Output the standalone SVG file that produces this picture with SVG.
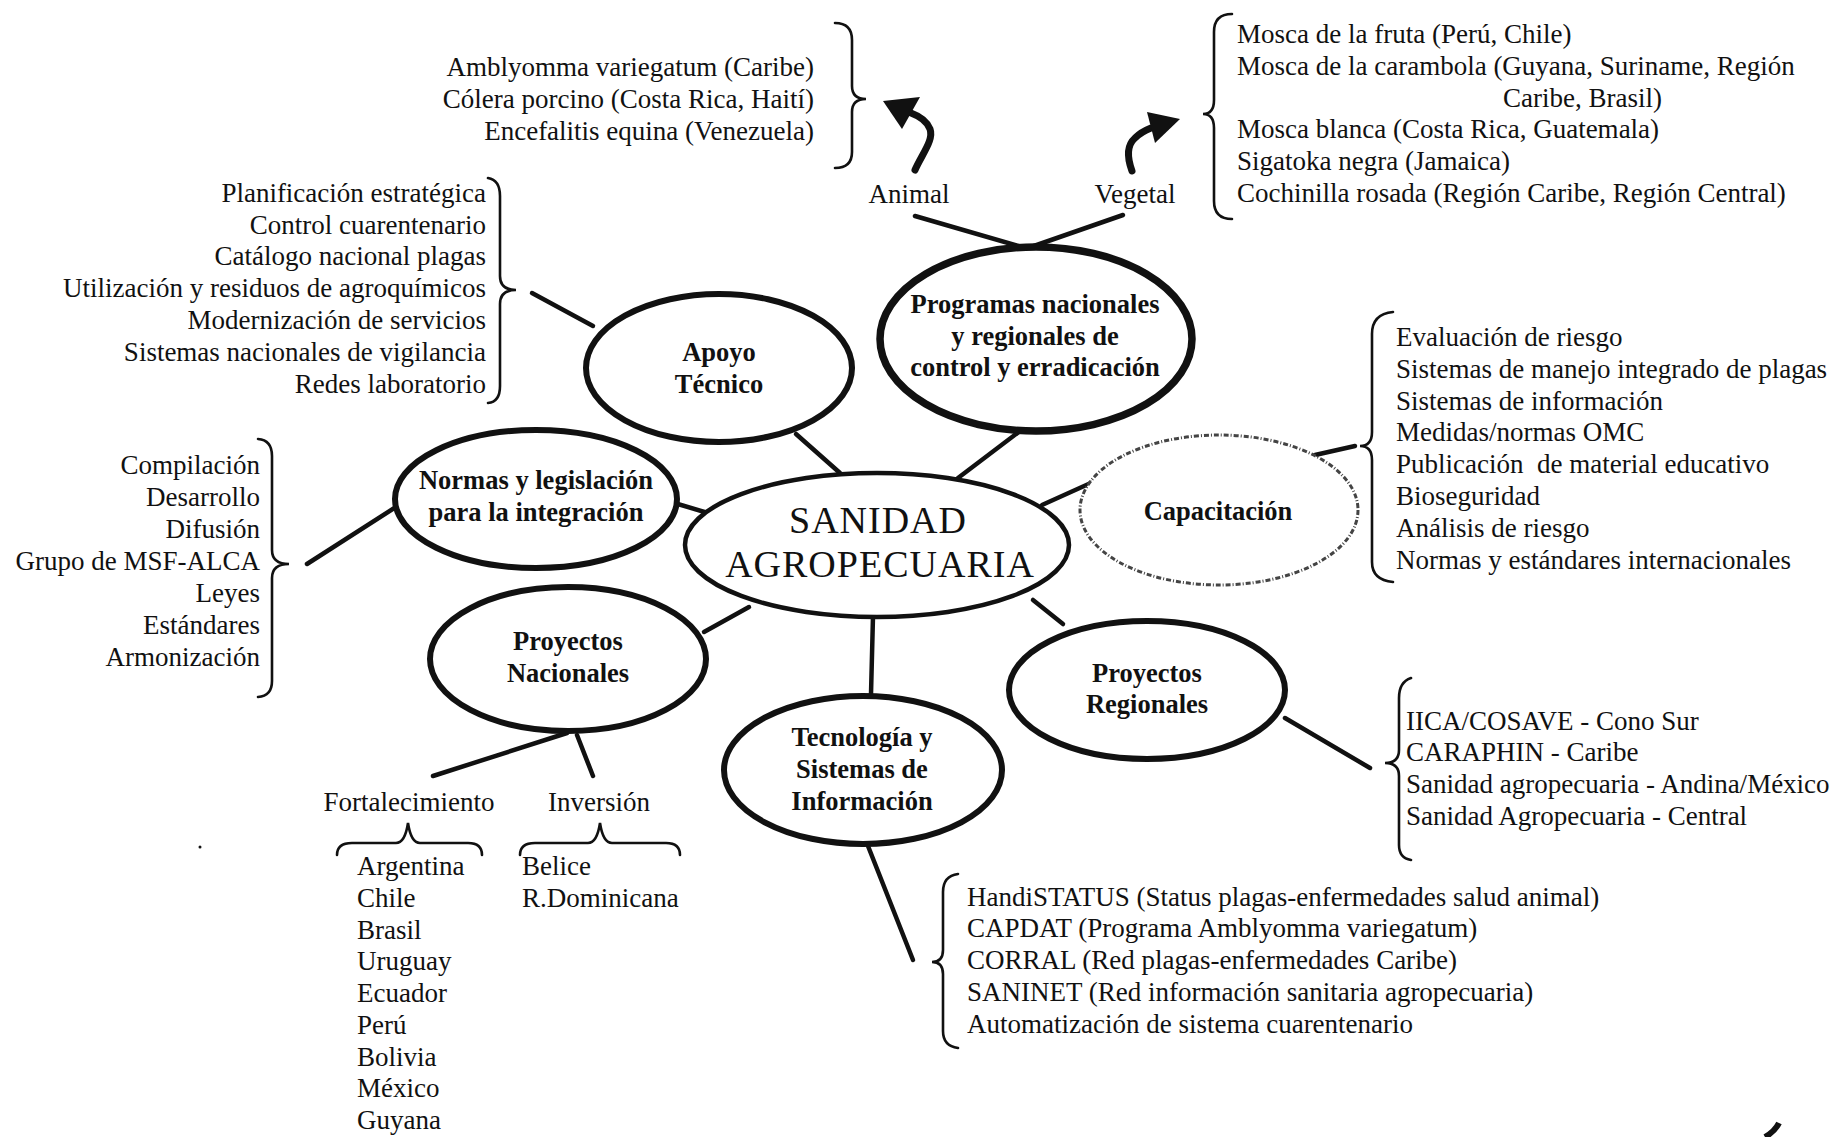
<svg xmlns="http://www.w3.org/2000/svg" width="1840" height="1137" viewBox="0 0 1840 1137">
<style>
  text { font-family: "Liberation Serif", "Times New Roman", serif; fill: #111; }
  .t { font-size: 27px; }
  .r { text-anchor: end; }
  .c { text-anchor: middle; }
  .b { font-size: 26.5px; font-weight: bold; text-anchor: middle; }
  .big { font-size: 38px; text-anchor: middle; letter-spacing: 1px; }
  .node { fill: #fff; stroke: #111; stroke-width: 6; }
  .thick { stroke-width: 7.5; }
  .center { stroke-width: 4.5; }
  .dash { fill: #fff; stroke: #444; stroke-width: 3; stroke-dasharray: 5 2 1 2; }
  .ln { stroke: #111; stroke-width: 4.5; stroke-linecap: round; fill: none; }
  .br { stroke: #111; stroke-width: 2.6; fill: none; stroke-linecap: round; }
  .arr { stroke: #111; stroke-width: 7; fill: none; stroke-linecap: round; }
  .pre { white-space: pre; }
</style>
<rect width="1840" height="1137" fill="#fff"/>

<g id="connectors">
  <line class="ln" x1="532" y1="293" x2="593" y2="326"/>
  <line class="ln" x1="796" y1="434" x2="840" y2="473"/>
  <line class="ln" x1="1024" y1="428" x2="958" y2="478"/>
  <line class="ln" x1="915" y1="216" x2="1022" y2="247"/>
  <line class="ln" x1="1123" y1="215" x2="1031" y2="247"/>
  <line class="ln" x1="671" y1="502" x2="708" y2="513"/>
  <line class="ln" x1="307" y1="564" x2="399" y2="505"/>
  <line class="ln" x1="1042" y1="505" x2="1093" y2="482"/>
  <line class="ln" x1="1315" y1="455" x2="1355" y2="446"/>
  <line class="ln" x1="704" y1="632" x2="749" y2="607"/>
  <line class="ln" x1="873" y1="616" x2="871" y2="694"/>
  <line class="ln" x1="1033" y1="600" x2="1063" y2="624"/>
  <line class="ln" x1="1285" y1="718" x2="1370" y2="768"/>
  <line class="ln" x1="567" y1="733" x2="433" y2="776"/>
  <line class="ln" x1="577" y1="735" x2="593" y2="776"/>
  <line class="ln" x1="868" y1="846" x2="913" y2="960"/>
  <!-- arrows -->
  <path class="arr" d="M915,170 C922,154 934,140 930,129 C927,121 919,116 911,113"/>
  <polygon points="883,101 920,97 902,129" fill="#111"/>
  <path class="arr" d="M1132,171 C1128,160 1126,146 1135,138 C1140,133 1146,130 1151,128"/>
  <polygon points="1180,119 1147,112 1155,143" fill="#111"/>
</g>

<g id="braces">
  <path class="br" d="M835,23 Q852,23 852,40 L852,86 Q852,99 866,99 Q852,99 852,112 L852,152 Q852,168 835,168"/>
  <path class="br" d="M1232,14 Q1214,14 1214,32 L1214,100 Q1214,114 1203,114 Q1214,114 1214,128 L1214,201 Q1214,219 1232,219"/>
  <path class="br" d="M488,178 Q500,180 500,196 L500,276 Q500,290 516,290 Q500,290 500,304 L500,386 Q500,402 488,403"/>
  <path class="br" d="M258,439 Q272,440 272,456 L272,550 Q272,564 289,564 Q272,564 272,578 L272,681 Q272,696 258,697"/>
  <path class="br" d="M1393,312 Q1372,314 1372,334 L1372,432 Q1372,446 1360,446 Q1372,446 1372,460 L1372,562 Q1372,580 1393,582"/>
  <path class="br" d="M1411,678 Q1399,682 1399,698 L1399,750 Q1399,763 1385,763 Q1399,763 1399,776 L1399,845 Q1399,858 1411,860"/>
  <path class="br" d="M958,874 Q943,876 943,892 L943,950 Q943,962 932,962 Q943,962 943,974 L943,1031 Q943,1046 958,1048"/>
  <path class="br" d="M337,855 Q337,843 352,843 L396,843 Q405,843 408,823 Q411,843 420,843 L468,843 Q482,843 482,855"/>
  <path class="br" d="M520,855 Q520,843 535,843 L588,843 Q597,843 600,823 Q603,843 612,843 L666,843 Q680,843 680,855"/>
</g>

<g id="animal-list">
  <text class="t c" x="909" y="203">Animal</text>
  <text class="t r" x="814" y="76">Amblyomma variegatum (Caribe)</text>
  <text class="t r" x="814" y="108">Cólera porcino (Costa Rica, Haití)</text>
  <text class="t r" x="814" y="140">Encefalitis equina (Venezuela)</text>
</g>

<g id="vegetal-list">
  <text class="t c" x="1135" y="203">Vegetal</text>
  <text class="t" x="1237" y="43">Mosca de la fruta (Perú, Chile)</text>
  <text class="t" x="1237" y="75">Mosca de la carambola (Guyana, Suriname, Región</text>
  <text class="t" x="1503" y="107">Caribe, Brasil)</text>
  <text class="t" x="1237" y="138">Mosca blanca (Costa Rica, Guatemala)</text>
  <text class="t" x="1237" y="170">Sigatoka negra (Jamaica)</text>
  <text class="t" x="1237" y="202">Cochinilla rosada (Región Caribe, Región Central)</text>
</g>

<g id="apoyo-list">
  <text class="t r" x="486" y="202">Planificación estratégica</text>
  <text class="t r" x="486" y="234">Control cuarentenario</text>
  <text class="t r" x="486" y="265">Catálogo nacional plagas</text>
  <text class="t r" x="486" y="297">Utilización y residuos de agroquímicos</text>
  <text class="t r" x="486" y="329">Modernización de servicios</text>
  <text class="t r" x="486" y="361">Sistemas nacionales de vigilancia</text>
  <text class="t r" x="486" y="393">Redes laboratorio</text>
</g>

<g id="normas-list">
  <text class="t r" x="260" y="474">Compilación</text>
  <text class="t r" x="260" y="506">Desarrollo</text>
  <text class="t r" x="260" y="538">Difusión</text>
  <text class="t r" x="260" y="570">Grupo de MSF-ALCA</text>
  <text class="t r" x="260" y="602">Leyes</text>
  <text class="t r" x="260" y="634">Estándares</text>
  <text class="t r" x="260" y="666">Armonización</text>
</g>

<g id="capacitacion-list">
  <text class="t" x="1396" y="346">Evaluación de riesgo</text>
  <text class="t" x="1396" y="378">Sistemas de manejo integrado de plagas</text>
  <text class="t" x="1396" y="410">Sistemas de información</text>
  <text class="t" x="1396" y="441">Medidas/normas OMC</text>
  <text class="t pre" x="1396" y="473">Publicación  de material educativo</text>
  <text class="t" x="1396" y="505">Bioseguridad</text>
  <text class="t" x="1396" y="537">Análisis de riesgo</text>
  <text class="t" x="1396" y="569">Normas y estándares internacionales</text>
</g>

<g id="regionales-list">
  <text class="t" x="1406" y="730">IICA/COSAVE - Cono Sur</text>
  <text class="t" x="1406" y="761">CARAPHIN - Caribe</text>
  <text class="t" x="1406" y="793">Sanidad agropecuaria - Andina/México</text>
  <text class="t" x="1406" y="825">Sanidad Agropecuaria - Central</text>
</g>

<g id="tecnologia-list">
  <text class="t" x="967" y="906">HandiSTATUS (Status plagas-enfermedades salud animal)</text>
  <text class="t" x="967" y="937">CAPDAT (Programa Amblyomma variegatum)</text>
  <text class="t" x="967" y="969">CORRAL (Red plagas-enfermedades Caribe)</text>
  <text class="t" x="967" y="1001">SANINET (Red información sanitaria agropecuaria)</text>
  <text class="t" x="967" y="1033">Automatización de sistema cuarentenario</text>
</g>

<g id="fortalecimiento-list">
  <text class="t c" x="409" y="811">Fortalecimiento</text>
  <text class="t" x="357" y="875">Argentina</text>
  <text class="t" x="357" y="907">Chile</text>
  <text class="t" x="357" y="939">Brasil</text>
  <text class="t" x="357" y="970">Uruguay</text>
  <text class="t" x="357" y="1002">Ecuador</text>
  <text class="t" x="357" y="1034">Perú</text>
  <text class="t" x="357" y="1066">Bolivia</text>
  <text class="t" x="357" y="1097">México</text>
  <text class="t" x="357" y="1129">Guyana</text>
</g>

<g id="inversion-list">
  <text class="t c" x="599" y="811">Inversión</text>
  <text class="t" x="522" y="875">Belice</text>
  <text class="t" x="522" y="907">R.Dominicana</text>
</g>

<g id="node-sanidad">
  <ellipse class="node center" cx="877" cy="545" rx="192" ry="72"/>
  <text class="big" x="878" y="533">SANIDAD</text>
  <text class="big" x="880" y="577">AGROPECUARIA</text>
</g>

<g id="node-apoyo">
  <ellipse class="node" cx="719" cy="368" rx="133" ry="74"/>
  <text class="b" x="719" y="361">Apoyo</text>
  <text class="b" x="719" y="393">Técnico</text>
</g>

<g id="node-programas">
  <ellipse class="node thick" cx="1036" cy="339" rx="156" ry="92"/>
  <text class="b" x="1035" y="313">Programas nacionales</text>
  <text class="b" x="1035" y="345">y regionales de</text>
  <text class="b" x="1035" y="376">control y erradicación</text>
</g>

<g id="node-normas">
  <ellipse class="node" cx="536" cy="499" rx="141" ry="69"/>
  <text class="b" x="536" y="489">Normas y legislación</text>
  <text class="b" x="536" y="521">para la integración</text>
</g>

<g id="node-capacitacion">
  <ellipse class="dash" cx="1219" cy="510" rx="139" ry="75"/>
  <text class="b" x="1218" y="520">Capacitación</text>
</g>

<g id="node-proyectos-nacionales">
  <ellipse class="node" cx="568" cy="659" rx="138" ry="72"/>
  <text class="b" x="568" y="650">Proyectos</text>
  <text class="b" x="568" y="682">Nacionales</text>
</g>

<g id="node-tecnologia">
  <ellipse class="node" cx="863" cy="770" rx="139" ry="74"/>
  <text class="b" x="862" y="746">Tecnología y</text>
  <text class="b" x="862" y="778">Sistemas de</text>
  <text class="b" x="862" y="810">Información</text>
</g>

<g id="node-proyectos-regionales">
  <ellipse class="node" cx="1147" cy="690" rx="138" ry="69"/>
  <text class="b" x="1147" y="682">Proyectos</text>
  <text class="b" x="1147" y="713">Regionales</text>
</g>

<g id="marks">
  <circle cx="200" cy="847" r="1.5" fill="#111"/>
  <path d="M1765,1137 C1772,1133 1776,1129 1779,1123" stroke="#111" stroke-width="6" fill="none"/>
</g>
</svg>
